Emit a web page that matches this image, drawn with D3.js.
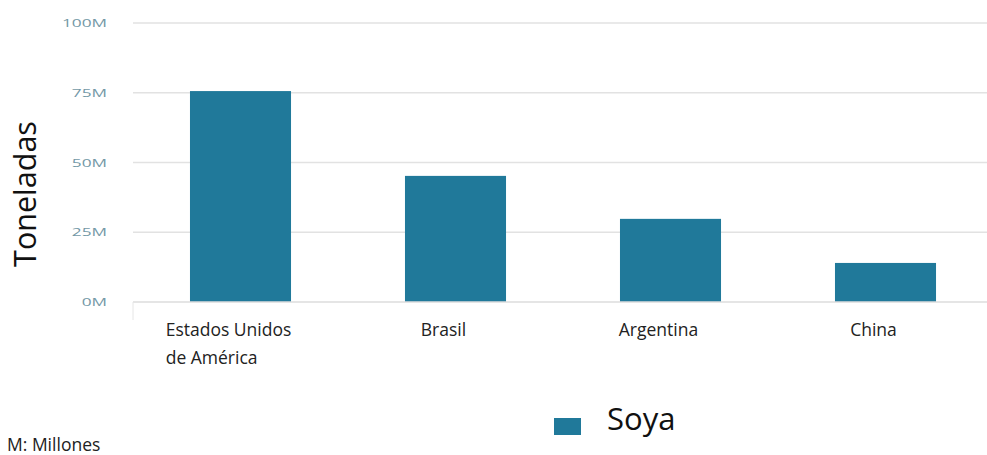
<!DOCTYPE html>
<html>
<head>
<meta charset="utf-8">
<script src="https://cdn.jsdelivr.net/npm/d3@7"></script>
<style>
  html, body { margin: 0; padding: 0; background: #ffffff; }
  svg { display: block; }
</style>
</head>
<body>
<svg id="chart" width="987" height="455"></svg>
<script>
// Soy production by country (tonnes)
const countries = [["Estados Unidos", "de América"], ["Brasil"], ["Argentina"], ["China"]];
const soya = [75.6e6, 45.2e6, 29.8e6, 14.0e6];
const yTicks = [0, 25e6, 50e6, 75e6, 100e6];
const tickLabel = v => (v / 1e6) + "M";

const svg = d3.select("#chart");
const W = 987;
const H = 455;
const margin = { left: 133, right: -6, top: 23, bottom: 153 };

const x = d3.scaleBand()
  .domain(countries.map((c, i) => i))
  .range([margin.left, W - margin.right])
  .paddingInner(0.53)
  .paddingOuter(0.265);

const y = d3.scaleLinear()
  .domain([0, 100e6])
  .range([H - margin.bottom, margin.top]);

// horizontal gridlines
svg.append("g")
  .selectAll("line")
  .data(yTicks.filter(t => t > 0))
  .join("line")
  .attr("x1", margin.left)
  .attr("x2", W)
  .attr("y1", d => y(d))
  .attr("y2", d => y(d))
  .attr("stroke", "#e2e2e2")
  .attr("stroke-width", 1.5);

// y tick labels (wide lettering)
const yAxis = svg.append("g")
  .attr("transform", `translate(${margin.left - 26},0)`)
  .call(d3.axisLeft(y).tickValues(yTicks).tickFormat(tickLabel).tickSize(0));
yAxis.select(".domain").remove();
yAxis.selectAll("text")
  .attr("x", 0)
  .attr("fill", "#7398a6")
  .attr("font-family", "'Open Sans', sans-serif")
  .attr("font-size", 11.5)
  .attr("transform", "scale(1.5,1)")
  .attr("text-anchor", "end");

// bars
svg.append("g")
  .selectAll("rect")
  .data(soya)
  .join("rect")
  .attr("x", (d, i) => x(i))
  .attr("width", x.bandwidth())
  .attr("y", d => y(d))
  .attr("height", d => y(0) - y(d))
  .attr("fill", "#20799a");

// baseline
svg.append("line")
  .attr("x1", margin.left)
  .attr("x2", W)
  .attr("y1", y(0))
  .attr("y2", y(0))
  .attr("stroke", "#dcdcdc")
  .attr("stroke-width", 1.5);
svg.append("line")
  .attr("x1", margin.left)
  .attr("x2", margin.left)
  .attr("y1", y(0))
  .attr("y2", y(0) + 18)
  .attr("stroke", "#e6e6e6")
  .attr("stroke-width", 1);

// category labels, lines left-aligned within each label block
const xl = svg.append("g")
  .selectAll("text")
  .data(countries)
  .join("text")
  .attr("y", y(0) + 34)
  .attr("font-family", "'Open Sans', sans-serif")
  .attr("font-size", 17.5)
  .attr("fill", "#222");
xl.selectAll("tspan")
  .data(d => d)
  .join("tspan")
  .attr("dy", (d, i) => i === 0 ? 0 : 28)
  .text(d => d);
xl.each(function (d, i) {
  const first = d3.select(this).select("tspan").node().getComputedTextLength();
  const left = x(i) + x.bandwidth() / 2 - first / 2 - 12;
  d3.select(this).selectAll("tspan").attr("x", left);
});

// y axis title
svg.append("text")
  .attr("transform", `translate(36,194) rotate(-90)`)
  .attr("text-anchor", "middle")
  .attr("font-family", "'Open Sans', sans-serif")
  .attr("font-size", 30.5)
  .attr("fill", "#111")
  .text("Toneladas");

// legend
const legend = svg.append("g").attr("transform", "translate(554,418)");
legend.append("rect")
  .attr("width", 27)
  .attr("height", 17)
  .attr("fill", "#20799a");
legend.append("text")
  .attr("x", 53)
  .attr("y", 12)
  .attr("font-family", "'Open Sans', sans-serif")
  .attr("font-size", 31)
  .attr("fill", "#111")
  .text("Soya");

// unit note
svg.append("text")
  .attr("x", 7)
  .attr("y", 451)
  .attr("font-family", "'Open Sans', sans-serif")
  .attr("font-size", 17.5)
  .attr("fill", "#222")
  .text("M: Millones");
</script>
</body>
</html>
